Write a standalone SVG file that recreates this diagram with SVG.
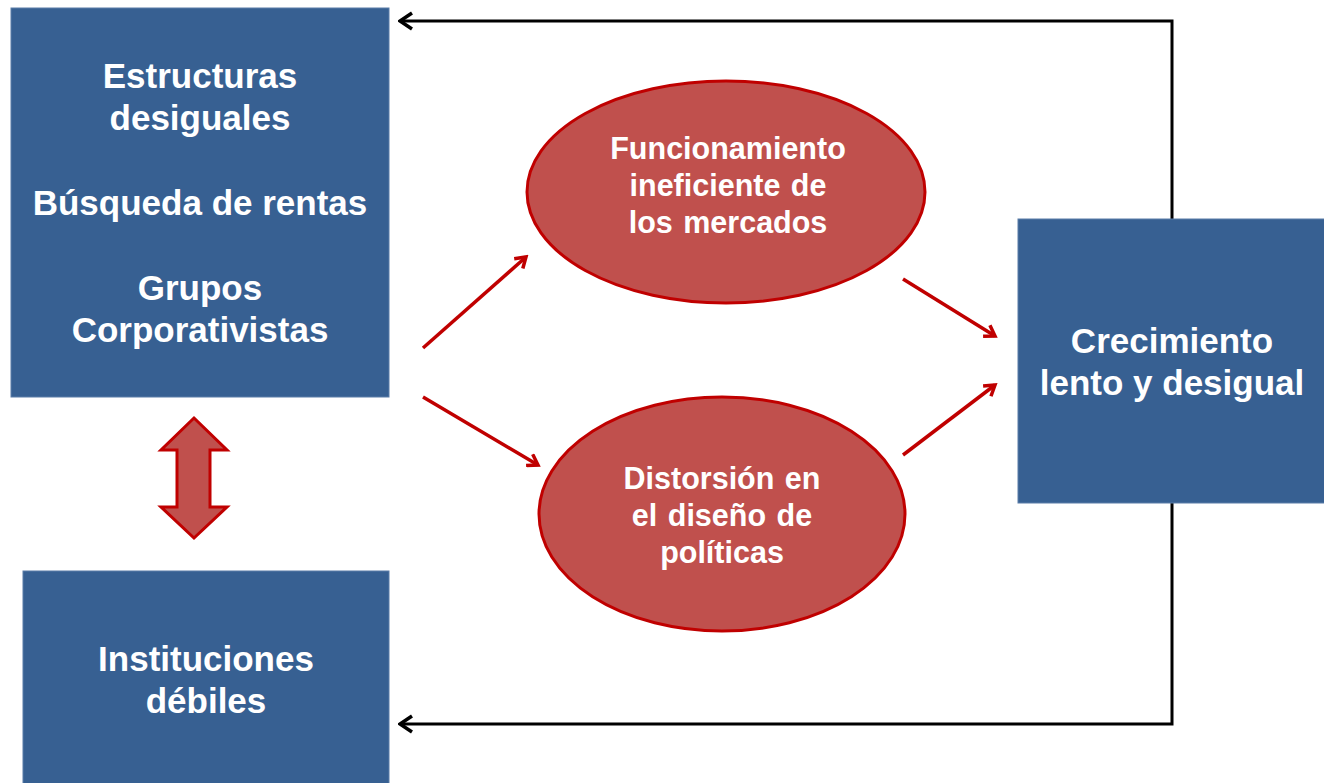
<svg xmlns="http://www.w3.org/2000/svg" width="1324" height="783" viewBox="0 0 1324 783">
<style>
.box{fill:#376092;stroke:#5A7DA8;stroke-width:1}
.ell{fill:#C0504D;stroke:#C00000;stroke-width:3}
.t{font-family:"Liberation Sans",Arial,sans-serif;font-weight:bold;fill:#FFFFFF;text-anchor:middle}
.tb{font-size:35px}
.te{font-size:30.5px;word-spacing:2px}
.red{stroke:#C00000;stroke-width:3.5;fill:none;marker-end:url(#mr)}
.blk{stroke:#000000;stroke-width:3;fill:none;marker-end:url(#mb)}
</style>
<defs>
<marker id="mr" markerUnits="userSpaceOnUse" viewBox="0 0 16 16" refX="13" refY="8" markerWidth="16" markerHeight="16" orient="auto">
<path d="M3,1.5 L13,8 L3,14.5" fill="none" stroke="#C00000" stroke-width="3.5"/>
</marker>
<marker id="mb" markerUnits="userSpaceOnUse" viewBox="0 0 16 20" refX="14" refY="10" markerWidth="16" markerHeight="20" orient="auto">
<path d="M2,2 L14,10 L2,18" fill="none" stroke="#000000" stroke-width="3.5"/>
</marker>
</defs>
<rect width="1324" height="783" fill="#FFFFFF"/>
<g id="connectors">
<path class="red" d="M423,348 L526,257"/>
<path class="red" d="M423,397 L538,465"/>
<path class="red" d="M903,279 L995,336"/>
<path class="red" d="M903,455 L995,385"/>
<path class="blk" d="M1172,219 L1172,21 L400,21"/>
<path class="blk" d="M1172,503 L1172,724 L400,724"/>
<polygon points="194,418 227,450 210,450 210,507 227,507 194,538 161,507 177,507 177,450 161,450" fill="#C0504D" stroke="#C00000" stroke-width="3"/>
</g>
<g id="estructuras">
<rect class="box" x="11" y="8" width="378" height="389"/>
<text class="t tb" x="200" y="88">Estructuras</text>
<text class="t tb" x="200" y="130">desiguales</text>
<text class="t tb" x="200" y="215">Búsqueda de rentas</text>
<text class="t tb" x="200" y="300">Grupos</text>
<text class="t tb" x="200" y="342">Corporativistas</text>
</g>
<g id="instituciones">
<rect class="box" x="23" y="571" width="366" height="214"/>
<text class="t tb" x="206" y="671">Instituciones</text>
<text class="t tb" x="206" y="713">débiles</text>
</g>
<g id="crecimiento">
<rect class="box" x="1018" y="219" width="308" height="284"/>
<text class="t tb" x="1172" y="353">Crecimiento</text>
<text class="t tb" x="1172" y="395">lento y desigual</text>
</g>
<g id="funcionamiento">
<ellipse class="ell" cx="726" cy="192" rx="199" ry="111"/>
<text class="t te" x="728" y="159">Funcionamiento</text>
<text class="t te" x="728" y="196">ineficiente de</text>
<text class="t te" x="728" y="233">los mercados</text>
</g>
<g id="distorsion">
<ellipse class="ell" cx="722" cy="514" rx="183" ry="117"/>
<text class="t te" x="722" y="489">Distorsión en</text>
<text class="t te" x="722" y="526">el diseño de</text>
<text class="t te" x="722" y="563">políticas</text>
</g>
</svg>
